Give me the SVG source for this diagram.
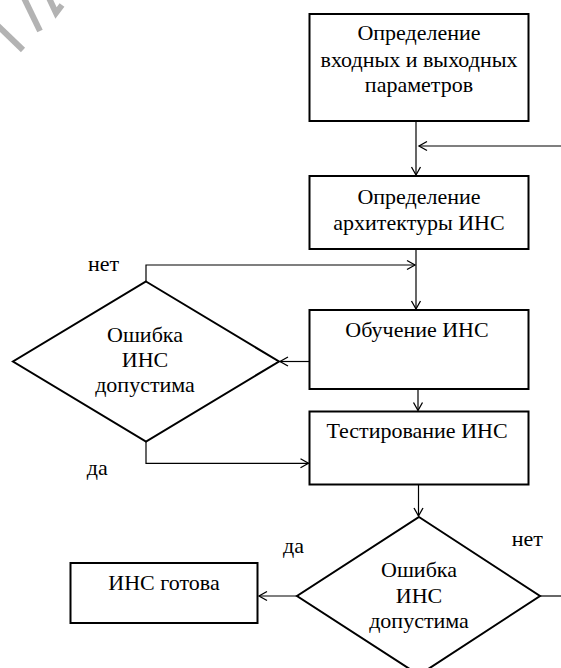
<svg xmlns="http://www.w3.org/2000/svg" width="561" height="668" viewBox="0 0 561 668">
<style>
.node{fill:#fff;stroke:#000;stroke-width:2}
.conn{fill:none;stroke:#000;stroke-width:1.2}
.t{font-family:'Liberation Serif','DejaVu Serif',serif;font-size:22px;fill:#000}
.c{text-anchor:middle}
.wm{fill:none;stroke:#b3b3b3;stroke-width:6}
</style>
<defs>
<marker id="ah" markerUnits="userSpaceOnUse" markerWidth="12" markerHeight="12" viewBox="-1 -6 12 12" refX="8" refY="0" orient="auto">
<path d="M0,-4.5 L8,0 L0,4.5" fill="none" stroke="#000" stroke-width="1.3"/>
</marker>
</defs>
<rect width="561" height="668" fill="#fff"/>
<g id="watermark">
<line class="wm" x1="-2" y1="26" x2="23" y2="50"/>
<line class="wm" x1="24" y1="-2" x2="40" y2="31"/>
<polyline class="wm" points="49,-2 56,13 62,5"/>
</g>
<g id="connectors">
<line class="conn" x1="416" y1="121" x2="416" y2="175" marker-end="url(#ah)"/>
<line class="conn" x1="561" y1="146" x2="419" y2="146" marker-end="url(#ah)"/>
<line class="conn" x1="416" y1="249" x2="416" y2="309" marker-end="url(#ah)"/>
<polyline class="conn" points="146,281.5 146,265 415,265" marker-end="url(#ah)"/>
<line class="conn" x1="309" y1="361.5" x2="280" y2="361.5" marker-end="url(#ah)"/>
<line class="conn" x1="418" y1="389" x2="418" y2="410.5" marker-end="url(#ah)"/>
<polyline class="conn" points="146,441.5 146,463.3 308.5,463.3" marker-end="url(#ah)"/>
<line class="conn" x1="418.5" y1="484.5" x2="418.5" y2="516" marker-end="url(#ah)"/>
<line class="conn" x1="297" y1="596" x2="259" y2="596" marker-end="url(#ah)"/>
<line class="conn" x1="540" y1="596" x2="561" y2="596"/>
</g>
<g id="n1" class="t" font-family="Liberation Serif, DejaVu Serif, serif">
<rect class="node" x="309.5" y="14" width="219" height="107"/>
<text class="c" x="419" y="40">Определение</text>
<text class="c" x="419" y="66.5">входных и выходных</text>
<text class="c" x="419" y="92">параметров</text>
</g>
<g id="n2" class="t">
<rect class="node" x="309.5" y="176" width="219" height="73"/>
<text class="c" x="419" y="204.3">Определение</text>
<text class="c" x="419" y="230">архитектуры ИНС</text>
</g>
<g id="n3" class="t">
<rect class="node" x="309.5" y="310" width="219" height="79"/>
<text class="c" x="417" y="336.7">Обучение ИНС</text>
</g>
<g id="n4" class="t">
<rect class="node" x="309.5" y="411.5" width="219" height="73"/>
<text class="c" x="417" y="438.3">Тестирование ИНС</text>
</g>
<g id="d1" class="t">
<polygon class="node" points="146,281.5 279,361.5 146,441.5 13,361.5"/>
<text class="c" x="145" y="342.3">Ошибка</text>
<text class="c" x="145" y="367.3">ИНС</text>
<text class="c" x="145" y="392.3">допустима</text>
</g>
<g id="d2" class="t">
<polygon class="node" points="419,517 540,596 419,675 297,596"/>
<text class="c" x="419" y="577.3">Ошибка</text>
<text class="c" x="419" y="602.7">ИНС</text>
<text class="c" x="419" y="628.3">допустима</text>
</g>
<g id="n5" class="t">
<rect class="node" x="70.5" y="563" width="187" height="60"/>
<text class="c" x="164" y="590">ИНС готова</text>
</g>
<g id="labels" class="t">
<text x="88" y="270.7">нет</text>
<text x="86.7" y="475">да</text>
<text x="283" y="553.3">да</text>
<text x="511.7" y="545.7">нет</text>
</g>
</svg>
